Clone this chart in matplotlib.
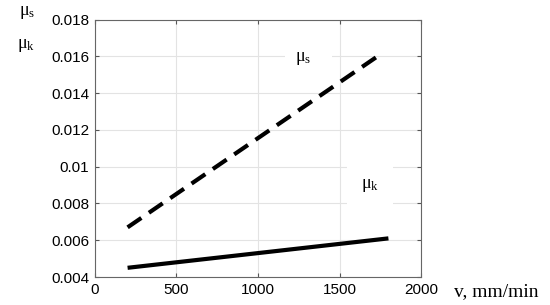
import matplotlib
matplotlib.use('Agg')
import matplotlib.pyplot as plt
from matplotlib.patches import Rectangle

plt.rcParams.update({
    'font.family': 'Liberation Sans',
    'mathtext.fontset': 'custom',
    'mathtext.rm': 'Liberation Serif',
    'mathtext.it': 'Liberation Serif:italic',
})

# ── Data ──
v_s = [200, 1750]
mu_s = [0.0067, 0.0161]
v_k = [200, 1000, 1800]
mu_k = [0.0045, 0.0053, 0.0061]

xticks = [0, 500, 1000, 1500, 2000]
yticks = [0.004, 0.006, 0.008, 0.01, 0.012, 0.014, 0.016, 0.018]
ytick_labels = ['0.004', '0.006', '0.008', '0.01', '0.012', '0.014', '0.016', '0.018']

LBL_S = 'μ$_{\\mathrm{s}}$'
LBL_K = 'μ$_{\\mathrm{k}}$'
SERIF = 'Liberation Serif'

fig = plt.figure(figsize=(5.5, 3.05), dpi=100)
ax = fig.add_axes([0.1727, 0.0918, 0.5928, 0.8442])

ax.plot(v_s, mu_s, color='black', lw=3, dashes=(4.0, 2.2),
        dash_capstyle='butt', zorder=3)
ax.plot(v_k, mu_k, color='black', lw=3, solid_capstyle='butt', zorder=3)

ax.set_xlim(0, 2000)
ax.set_ylim(0.004, 0.018)
ax.set_xticks(xticks)
ax.set_yticks(yticks)
ax.set_yticklabels(ytick_labels)
ax.grid(True, color='#e3e3e3', lw=0.8)
ax.set_axisbelow(True)
ax.tick_params(direction='in', length=3, width=0.8, color='#555555',
               top=True, right=True, labelsize=11, pad=4)
for sp in ax.spines.values():
    sp.set_color('#666666')
    sp.set_linewidth(0.8)

# white label boxes that break the grid
ax.add_patch(Rectangle((1166, 0.0150), 288, 0.0018, facecolor='white',
                       edgecolor='none', zorder=1.5))
ax.add_patch(Rectangle((1546, 0.0077), 282, 0.0026, facecolor='white',
                       edgecolor='none', zorder=1.5))
ax.text(1275, 0.0159, LBL_S, fontsize=13, family=SERIF, ha='center', va='center', zorder=2)
ax.text(1690, 0.0090, LBL_K, fontsize=13, family=SERIF, ha='center', va='center', zorder=2)

# axis titles
fig.text(0.05, 0.96, LBL_S, fontsize=13, family=SERIF, ha='center', va='center')
fig.text(0.047, 0.85, LBL_K, fontsize=13, family=SERIF, ha='center', va='center')
fig.text(0.902, 0.045, 'v, mm/min', fontsize=14, family=SERIF,
         ha='center', va='center')

plt.savefig('out.png', dpi=100)
plt.close()
